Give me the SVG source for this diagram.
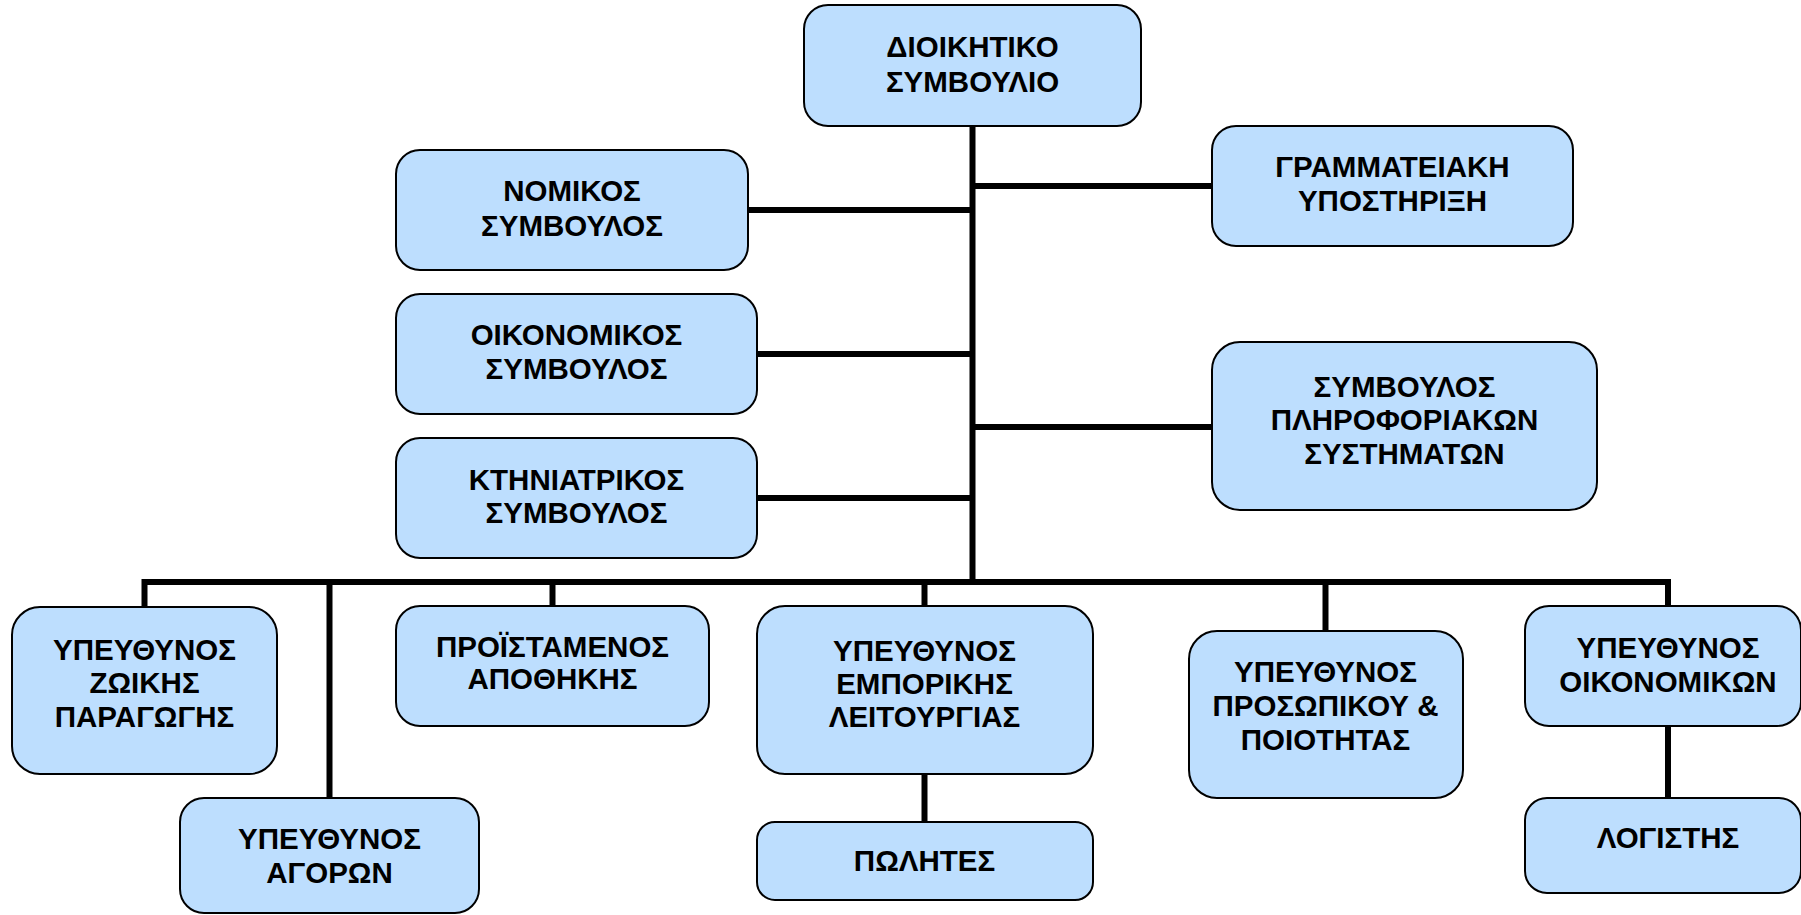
<svg xmlns="http://www.w3.org/2000/svg" width="1801" height="915" viewBox="0 0 1801 915">
<style>
.box{fill:#BDDEFE;stroke:#000;stroke-width:2}
.lbl{font-family:"Liberation Sans",Arial,sans-serif;font-weight:bold;font-size:29.5px;fill:#000;text-anchor:middle}
.con{stroke:#000;stroke-width:6;fill:none}
</style>
<rect width="1801" height="915" fill="#fff"/>
<g id="connectors">
<line class="con" x1="972.5" y1="126" x2="972.5" y2="585"/>
<line class="con" x1="748" y1="210" x2="972.5" y2="210"/>
<line class="con" x1="757" y1="354" x2="972.5" y2="354"/>
<line class="con" x1="757" y1="498" x2="972.5" y2="498"/>
<line class="con" x1="972.5" y1="186" x2="1212" y2="186"/>
<line class="con" x1="972.5" y1="427" x2="1212" y2="427"/>
<polyline class="con" points="144.5,607 144.5,582 1668,582 1668,606"/>
<line class="con" x1="329.5" y1="582" x2="329.5" y2="798"/>
<line class="con" x1="552.5" y1="582" x2="552.5" y2="606"/>
<line class="con" x1="924.5" y1="582" x2="924.5" y2="606"/>
<line class="con" x1="1325.5" y1="582" x2="1325.5" y2="631"/>
<line class="con" x1="924.5" y1="774" x2="924.5" y2="822"/>
<line class="con" x1="1668" y1="726" x2="1668" y2="798"/>
</g>
<g id="n-dioikitiko">
<rect class="box" x="804" y="5" width="337" height="121" rx="24"/>
<text class="lbl" x="972.5" y="57">ΔΙΟΙΚΗΤΙΚΟ</text>
<text class="lbl" x="972.5" y="92">ΣΥΜΒΟΥΛΙΟ</text>
</g>
<g id="n-nomikos">
<rect class="box" x="396" y="150" width="352" height="120" rx="24"/>
<text class="lbl" x="572" y="201">ΝΟΜΙΚΟΣ</text>
<text class="lbl" x="572" y="236">ΣΥΜΒΟΥΛΟΣ</text>
</g>
<g id="n-oikonomikos">
<rect class="box" x="396" y="294" width="361" height="120" rx="24"/>
<text class="lbl" x="576.5" y="345">ΟΙΚΟΝΟΜΙΚΟΣ</text>
<text class="lbl" x="576.5" y="379">ΣΥΜΒΟΥΛΟΣ</text>
</g>
<g id="n-ktiniatrikos">
<rect class="box" x="396" y="438" width="361" height="120" rx="24"/>
<text class="lbl" x="576.5" y="490">ΚΤΗΝΙΑΤΡΙΚΟΣ</text>
<text class="lbl" x="576.5" y="523">ΣΥΜΒΟΥΛΟΣ</text>
</g>
<g id="n-grammateiaki">
<rect class="box" x="1212" y="126" width="361" height="120" rx="24"/>
<text class="lbl" x="1392.5" y="177">ΓΡΑΜΜΑΤΕΙΑΚΗ</text>
<text class="lbl" x="1392.5" y="211">ΥΠΟΣΤΗΡΙΞΗ</text>
</g>
<g id="n-pliroforiakon">
<rect class="box" x="1212" y="342" width="385" height="168" rx="28"/>
<text class="lbl" x="1404.5" y="397">ΣΥΜΒΟΥΛΟΣ</text>
<text class="lbl" x="1404.5" y="430">ΠΛΗΡΟΦΟΡΙΑΚΩΝ</text>
<text class="lbl" x="1404.5" y="464">ΣΥΣΤΗΜΑΤΩΝ</text>
</g>
<g id="n-zoikis">
<rect class="box" x="12" y="607" width="265" height="167" rx="28"/>
<text class="lbl" x="144.5" y="660">ΥΠΕΥΘΥΝΟΣ</text>
<text class="lbl" x="144.5" y="693">ΖΩΙΚΗΣ</text>
<text class="lbl" x="144.5" y="727">ΠΑΡΑΓΩΓΗΣ</text>
</g>
<g id="n-agoron">
<rect class="box" x="180" y="798" width="299" height="115" rx="24"/>
<text class="lbl" x="329.5" y="849">ΥΠΕΥΘΥΝΟΣ</text>
<text class="lbl" x="329.5" y="883">ΑΓΟΡΩΝ</text>
</g>
<g id="n-apothikis">
<rect class="box" x="396" y="606" width="313" height="120" rx="24"/>
<text class="lbl" x="552.5" y="657">ΠΡΟΪΣΤΑΜΕΝΟΣ</text>
<text class="lbl" x="552.5" y="689">ΑΠΟΘΗΚΗΣ</text>
</g>
<g id="n-emporikis">
<rect class="box" x="757" y="606" width="336" height="168" rx="28"/>
<text class="lbl" x="924.5" y="661">ΥΠΕΥΘΥΝΟΣ</text>
<text class="lbl" x="924.5" y="694">ΕΜΠΟΡΙΚΗΣ</text>
<text class="lbl" x="924.5" y="727">ΛΕΙΤΟΥΡΓΙΑΣ</text>
</g>
<g id="n-polites">
<rect class="box" x="757" y="822" width="336" height="78" rx="18"/>
<text class="lbl" x="924.5" y="871">ΠΩΛΗΤΕΣ</text>
</g>
<g id="n-prosopikou">
<rect class="box" x="1189" y="631" width="274" height="167" rx="28"/>
<text class="lbl" x="1325.5" y="682">ΥΠΕΥΘΥΝΟΣ</text>
<text class="lbl" x="1325.5" y="716">ΠΡΟΣΩΠΙΚΟΥ &amp;</text>
<text class="lbl" x="1325.5" y="750">ΠΟΙΟΤΗΤΑΣ</text>
</g>
<g id="n-oikonomikon">
<rect class="box" x="1525" y="606" width="276" height="120" rx="24"/>
<text class="lbl" x="1668" y="658">ΥΠΕΥΘΥΝΟΣ</text>
<text class="lbl" x="1668" y="692">ΟΙΚΟΝΟΜΙΚΩΝ</text>
</g>
<g id="n-logistis">
<rect class="box" x="1525" y="798" width="276" height="95" rx="22"/>
<text class="lbl" x="1668" y="848">ΛΟΓΙΣΤΗΣ</text>
</g>
</svg>
